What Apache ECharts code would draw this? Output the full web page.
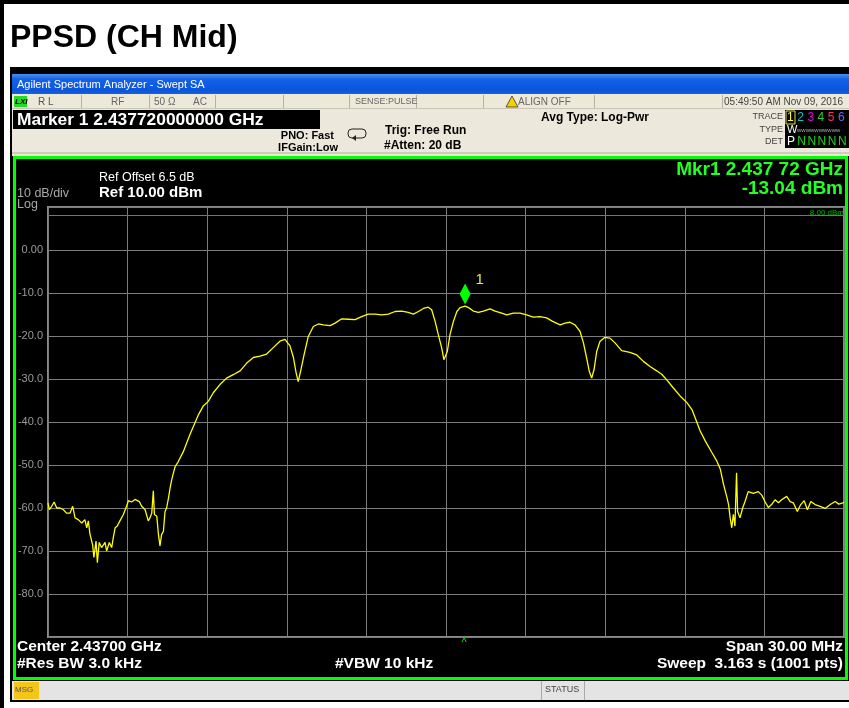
<!DOCTYPE html>
<html>
<head>
<meta charset="utf-8">
<script src="https://cdn.jsdelivr.net/npm/echarts@6/dist/echarts.min.js"></script>
<style>
html,body{margin:0;padding:0;background:#fff;}
#c{width:849px;height:708px;}
</style>
</head>
<body>
<div id="c"></div>
<script>
// Frequency offset from center 2.437 GHz, in MHz (span 30 MHz)
const freqMHz = [
-15.00,-14.95,-14.86,-14.77,-14.67,-14.55,-14.42,-14.30,-14.17,-14.07,
-13.98,-13.86,-13.73,-13.61,-13.54,-13.48,-13.42,-13.32,-13.27,-13.19,
-13.14,-13.07,-12.98,-12.85,-12.79,-12.69,-12.60,-12.54,-12.47,-12.39,
-12.29,-12.16,-12.04,-11.97,-11.85,-11.72,-11.56,-11.47,-11.34,-11.22,
-11.16,-11.09,-11.03,-10.99,-10.90,-10.84,-10.78,-10.72,-10.65,-10.59,
-10.53,-10.46,-10.40,-10.34,-10.28,-10.21,-10.09,-9.90,-9.65,-9.46,
-9.33,-9.15,-8.96,-8.77,-8.52,-8.27,-8.02,-7.76,-7.51,-7.26,
-7.01,-6.76,-6.51,-6.26,-6.07,-5.88,-5.75,-5.65,-5.57,-5.48,
-5.35,-5.19,-5.00,-4.81,-4.62,-4.37,-4.18,-3.93,-3.68,-3.43,
-3.18,-2.93,-2.68,-2.42,-2.17,-1.92,-1.67,-1.42,-1.23,-1.04,
-0.85,-0.67,-0.54,-0.41,-0.29,-0.16,-0.08,-0.01,0.05,0.15,
0.28,0.41,0.53,0.72,0.85,1.03,1.22,1.41,1.66,1.85,
2.10,2.29,2.54,2.79,3.04,3.29,3.54,3.79,4.02,4.30,
4.49,4.67,4.86,5.05,5.18,5.30,5.40,5.49,5.58,5.68,
5.80,5.99,6.18,6.37,6.62,6.93,7.19,7.44,7.69,7.94,
8.13,8.32,8.57,8.83,9.08,9.27,9.39,9.58,9.77,10.02,
10.21,10.34,10.46,10.59,10.65,10.71,10.77,10.83,10.89,10.95,
10.99,11.08,11.18,11.27,11.39,11.58,11.77,11.90,12.02,12.15,
12.27,12.40,12.53,12.65,12.84,12.97,13.09,13.24,13.37,13.50,
13.62,13.75,13.91,14.10,14.29,14.48,14.67,14.80,14.96,15.00
];
// Trace 1 level, dBm
const levelDBm = [
-58.8,-60.4,-59.6,-58.6,-60.0,-60.0,-60.4,-61.2,-61.2,-59.6,
-62.3,-62.7,-63.5,-62.7,-64.6,-63.0,-66.0,-68.5,-71.5,-67.7,
-72.7,-68.0,-69.2,-68.0,-70.0,-68.0,-69.2,-66.9,-64.6,-64.2,
-63.0,-61.5,-59.6,-58.3,-58.6,-58.0,-58.5,-59.6,-60.4,-63.0,
-62.3,-61.2,-56.0,-61.5,-61.9,-66.0,-68.8,-66.2,-65.4,-60.8,
-60.0,-57.7,-55.4,-53.5,-52.0,-50.4,-49.2,-46.9,-42.9,-40.2,
-38.3,-36.3,-35.2,-33.2,-31.3,-29.8,-29.0,-28.1,-26.3,-25.0,
-24.7,-24.2,-22.7,-21.2,-20.8,-22.3,-25.0,-28.5,-30.6,-28.2,
-24.4,-20.1,-17.8,-17.2,-17.4,-17.6,-17.0,-16.0,-16.1,-16.2,
-15.5,-14.9,-14.9,-15.1,-14.9,-14.3,-14.2,-14.5,-14.9,-14.3,
-13.6,-13.3,-13.9,-16.6,-19.7,-22.8,-25.5,-25.9,-23.6,-19.7,
-16.6,-14.3,-13.4,-13.04,-13.4,-14.2,-14.5,-14.2,-13.7,-14.2,
-14.7,-15.1,-14.7,-14.7,-15.1,-15.6,-15.5,-15.8,-16.6,-17.4,
-17.0,-16.8,-17.4,-18.9,-21.6,-25.1,-28.2,-29.8,-27.8,-23.6,
-21.3,-20.3,-20.5,-21.6,-23.4,-23.8,-24.4,-25.9,-27.1,-28.1,
-28.9,-30.2,-32.1,-34.0,-35.5,-37.1,-39.0,-42.1,-44.4,-47.1,
-49.1,-51.0,-54.5,-57.6,-59.2,-62.3,-64.6,-61.5,-64.2,-51.8,
-60.8,-62.3,-60.0,-58.5,-56.2,-56.6,-56.2,-57.0,-58.5,-59.9,
-59.2,-58.1,-58.8,-58.1,-57.3,-58.5,-58.8,-60.8,-59.2,-58.3,
-60.4,-58.5,-59.2,-59.6,-60.1,-59.2,-58.5,-59.1,-58.8,-58.6
];
const markerFreq = 0.72;      // 2.437 72 GHz
const markerLevel = -13.04;   // dBm
const displayLine = 8;        // dBm
const yTicks = [10,0,-10,-20,-30,-40,-50,-60,-70,-80,-90];

const traceData = freqMHz.map((f,i)=>[f, levelDBm[i]]);

const F = '"Liberation Sans", Arial, sans-serif';
function T(x,y,text,opt){
  opt = opt||{};
  return {type:'text', x:x, y:y, z:20, silent:true, style:{
    text:text, fill:opt.fill||'#000', font:(opt.font||'12px')+' '+F,
    textAlign:opt.align||'left', textVerticalAlign:'middle', verticalAlign:'middle'}};
}
function R(x,y,w,h,fill,opt){
  opt=opt||{};
  return {type:'rect', z:opt.z==null?-5:opt.z, silent:true, shape:{x:x,y:y,width:w,height:h,r:opt.r||0},
    style:{fill:fill, stroke:opt.stroke||null, lineWidth:opt.lw||0}};
}
function VL(x,y1,y2,c){
  return {type:'line', z:-4, silent:true, shape:{x1:x,y1:y1,x2:x,y2:y2}, style:{stroke:c,lineWidth:1}};
}

const G = [];
// outer frame & title area
G.push(R(0,0,849,708,'#ffffff',{z:-10}));
G.push(R(0,0,849,4,'#000',{z:-9}));
G.push(R(0,0,4,708,'#000',{z:-9}));
G.push(T(10,38,'PPSD (CH Mid)',{font:'bold 32px'}));
// instrument screen
G.push(R(10,67,839,635,'#000',{z:-9}));
G.push({type:'rect', z:-8, silent:true, shape:{x:12,y:74,width:837,height:20},
  style:{fill:new echarts.graphic.LinearGradient(0,0,0,1,[{offset:0,color:'#4a8ff5'},{offset:0.25,color:'#1562e6'},{offset:0.8,color:'#0a55dc'},{offset:1,color:'#1c5fd8'}])}});
G.push(T(17,85,'Agilent Spectrum Analyzer - Swept SA',{fill:'#fff',font:'11px'}));
// status row
G.push(R(12,94,837,14,'#ece9d8',{z:-8}));
[81,149,215,283,349,416,483,594,722].forEach(x=>G.push(VL(x+0.5,95,108,'#b5b1a5')));
G.push(R(14,96,13,11,'#22dd22',{z:-3}));
G.push(T(15,102,'LXI',{font:'italic bold 8px',fill:'#000'}));
G.push(T(38,102,'R L',{fill:'#555',font:'10px'}));
G.push(T(111,102,'RF',{fill:'#666',font:'10px'}));
G.push(T(154,102,'50 Ω',{fill:'#666',font:'10px'}));
G.push(T(193,102,'AC',{fill:'#666',font:'10px'}));
G.push(T(355,102,'SENSE:PULSE',{fill:'#666',font:'9px'}));
G.push({type:'polygon', z:-3, silent:true, shape:{points:[[512,96],[506,107],[518,107]]}, style:{fill:'#f5d000',stroke:'#333',lineWidth:0.8}});
G.push(T(518,102,'ALIGN OFF',{fill:'#666',font:'10px'}));
G.push(T(843,102,'05:49:50 AM Nov 09, 2016',{fill:'#444',font:'10px',align:'right'}));
// info area
G.push(R(12,108,837,48,'#ece8dc',{z:-8}));
G.push(R(12,108,837,1,'#c9c5b9',{z:-7}));
G.push(R(12,152,837,2,'#cfcbbf',{z:-7}));
G.push(R(13,110,307,19,'#000',{z:-3}));
G.push(T(17,120,'Marker 1 2.437720000000 GHz',{fill:'#fff',font:'bold 17.4px'}));
G.push(T(541,118,'Avg Type: Log-Pwr',{font:'bold 12px'}));
G.push(T(334,136,'PNO: Fast',{font:'bold 11px',align:'right'}));
G.push(T(338,148,'IFGain:Low',{font:'bold 11px',align:'right'}));
G.push({type:'rect', z:-3, silent:true, shape:{x:348,y:129,width:18,height:9,r:4}, style:{fill:null,stroke:'#222',lineWidth:1}});
G.push({type:'polygon', z:-3, silent:true, shape:{points:[[356,135],[352,138],[356,141]]}, style:{fill:'#222'}});
G.push(T(385,131,'Trig: Free Run',{font:'bold 12px'}));
G.push(T(384,146,'#Atten: 20 dB',{font:'bold 12px'}));
G.push(T(783,117,'TRACE',{fill:'#444',font:'9px',align:'right'}));
G.push(T(783,130,'TYPE',{fill:'#444',font:'9px',align:'right'}));
G.push(T(783,142,'DET',{fill:'#444',font:'9px',align:'right'}));
G.push(R(785,110,64,38,'#000',{z:-3}));
G.push({type:'rect', z:-2, silent:true, shape:{x:786,y:111,width:9,height:13}, style:{fill:null,stroke:'#e0e040',lineWidth:1}});
const traceColors = ['#ffff30','#00c8c8','#e000e0','#30d030','#ff3060','#6a6aff'];
traceColors.forEach((c,i)=>G.push(T(787+i*10.2,118,String(i+1),{fill:c,font:'12px'})));
G.push(T(787,130,'W',{fill:'#fff',font:'11px'}));
G.push(T(797,130,'wwwwwwwwww',{fill:'#aaa',font:'6px'}));
G.push(T(787,142,'P',{fill:'#fff',font:'12px'}));
for(let i=1;i<6;i++) G.push(T(787+i*10.2,142,'N',{fill:'#20d020',font:'12px'}));
// measurement frame
G.push({type:'rect', z:-6, silent:true, shape:{x:14.5,y:157.5,width:832,height:521}, style:{fill:'#000',stroke:'#00ff00',lineWidth:3}});
G.push(T(99,178,'Ref Offset 6.5 dB',{fill:'#fff',font:'12.5px'}));
G.push(T(99,193,'Ref 10.00 dBm',{fill:'#fff',font:'bold 15px'}));
G.push(T(17,194,'10 dB/div',{fill:'#a8a8a8',font:'12.5px'}));
G.push(T(17,205,'Log',{fill:'#a8a8a8',font:'12.5px'}));
G.push(T(843,170,'Mkr1 2.437 72 GHz',{fill:'#22ff22',font:'bold 19px',align:'right'}));
G.push(T(843,189,'-13.04 dBm',{fill:'#22ff22',font:'bold 19px',align:'right'}));
G.push(T(17,647,'Center 2.43700 GHz',{fill:'#fff',font:'bold 15.5px'}));
G.push(T(17,664,'#Res BW 3.0 kHz',{fill:'#fff',font:'bold 15.5px'}));
G.push(T(335,664,'#VBW 10 kHz',{fill:'#fff',font:'bold 15.5px'}));
G.push(T(843,647,'Span 30.00 MHz',{fill:'#fff',font:'bold 15.5px',align:'right'}));
G.push(T(843,664,'Sweep  3.163 s (1001 pts)',{fill:'#fff',font:'bold 15.5px',align:'right'}));
// message bar
G.push(R(12,681,837,19,'#e4e4e4',{z:-5}));
G.push(R(14,682,25,17,'#f5c518',{z:-4}));
G.push(T(15,690,'MSG',{fill:'#555',font:'8px'}));
G.push(VL(541.5,681,700,'#aaa'));
G.push(VL(584.5,681,700,'#aaa'));
G.push(T(545,690,'STATUS',{fill:'#444',font:'9px'}));

const option = {
  animation:false,
  backgroundColor:'#fff',
  graphic:{elements:G},
  grid:{left:48, top:207, width:796, height:430, show:true, backgroundColor:'#000', borderColor:'#8a8a8a', borderWidth:2},
  xAxis:{type:'value', min:-15, max:15, interval:3,
    axisLine:{show:false}, axisTick:{show:false}, axisLabel:{show:false},
    splitLine:{show:true, lineStyle:{color:'#7c7c7c', width:1}}},
  yAxis:{type:'value', min:-90, max:10, interval:10,
    axisLine:{show:false}, axisTick:{show:false},
    axisLabel:{color:'#9a9a9a', fontSize:11, fontFamily:'Liberation Sans, Arial', margin:5,
      formatter:v=> (v===10||v===-90)?'': (v===0?'0.00':v.toFixed(1))},
    splitLine:{show:true, lineStyle:{color:'#7c7c7c', width:1}}},
  series:[{
    type:'line', data:traceData, showSymbol:false, symbol:'none', z:5,
    lineStyle:{color:'#ffff00', width:1.3},
    markLine:{silent:true, symbol:'none', animation:false,
      lineStyle:{color:'#00c800', type:'solid', width:1},
      label:{show:true, position:'insideEndTop', formatter:'8.00 dBm', color:'#00b000', fontSize:8, distance:[0,-1]},
      data:[{yAxis:displayLine}]},
    markPoint:{silent:true, animation:false, data:[
      {coord:[markerFreq, markerLevel], symbol:'diamond', symbolSize:[11,21], symbolOffset:[0,-12],
        itemStyle:{color:'#00ff00'},
        label:{show:true, formatter:'1', position:[14,-12], color:'#e8e840', fontSize:15, fontFamily:'Liberation Sans, Arial',
          backgroundColor:'#000', padding:[1,8,1,2]}},
      {coord:[markerFreq, -90], symbol:'circle', symbolSize:1, itemStyle:{color:'rgba(0,0,0,0)'},
        label:{show:true, formatter:'^', position:[-3,1], color:'#00ff00', fontSize:11}}
    ]}
  }]
};
const chart = echarts.init(document.getElementById('c'), null, {renderer:'canvas'});
chart.setOption(option);
</script>
</body>
</html>
